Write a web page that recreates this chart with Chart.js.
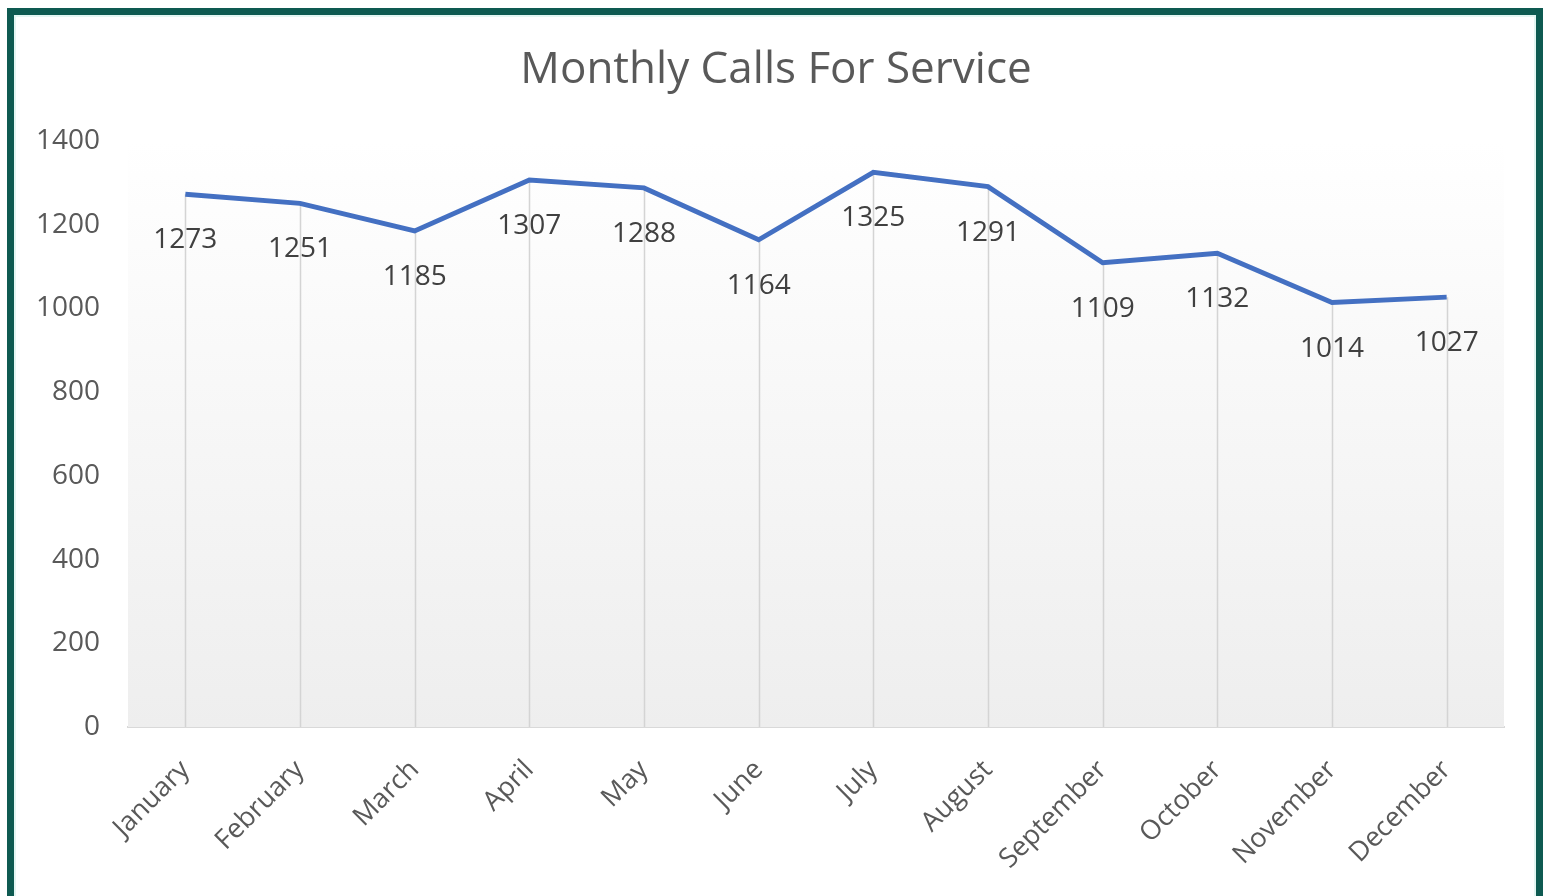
<!DOCTYPE html>
<html>
<head>
<meta charset="utf-8">
<script src="https://cdn.jsdelivr.net/npm/chart.js@4/dist/chart.umd.min.js"></script>
<style>
  html, body { margin: 0; padding: 0; background: #fff; overflow: hidden; }
  #wrap { position: relative; width: 1546px; height: 896px; }
  #frame {
    position: absolute; left: 7px; top: 8px; width: 1536px; height: 1000px;
    box-sizing: border-box; border: 7px solid #0e5a51;
    box-shadow: inset 0 0 0 2px #e3f6f3; pointer-events: none;
  }
  canvas { position: absolute; left: 0; top: 0; }
</style>
</head>
<body>
<div id="wrap">
  <canvas id="c" width="1546" height="896"></canvas>
  <div id="frame"></div>
</div>
<script>
// chart data
var chartTitle = 'Monthly Calls For Service';
var months = ['January', 'February', 'March', 'April', 'May', 'June',
              'July', 'August', 'September', 'October', 'November', 'December'];
var calls = [1273, 1251, 1185, 1307, 1288, 1164, 1325, 1291, 1109, 1132, 1014, 1027];
var yTicks = [0, 200, 400, 600, 800, 1000, 1200, 1400];

var FONT = '"Open Sans", "Noto Sans", sans-serif';

// gradient plot background + drop lines from each point to the axis
var plotDeco = {
  id: 'plotDeco',
  beforeDatasetsDraw: function(chart) {
    var a = chart.chartArea, ctx = chart.ctx;
    var g = ctx.createLinearGradient(0, a.top, 0, a.bottom);
    g.addColorStop(0, '#ffffff');
    g.addColorStop(1, '#eeeeee');
    ctx.save();
    ctx.fillStyle = g;
    ctx.fillRect(a.left, a.top, a.right - a.left, a.bottom - a.top);
    var y0 = chart.scales.y.getPixelForValue(0);
    ctx.strokeStyle = '#d4d4d4';
    ctx.lineWidth = 1.5;
    chart.getDatasetMeta(0).data.forEach(function(pt) {
      ctx.beginPath();
      ctx.moveTo(Math.round(pt.x) + 0.5, pt.y);
      ctx.lineTo(Math.round(pt.x) + 0.5, y0);
      ctx.stroke();
    });
    ctx.restore();
  }
};

// value labels under each point, and the title (sits off-centre like the original)
var textDeco = {
  id: 'textDeco',
  afterDatasetsDraw: function(chart) {
    var ctx = chart.ctx;
    ctx.save();
    ctx.font = '28px ' + FONT;
    ctx.fillStyle = '#404040';
    ctx.textAlign = 'center';
    ctx.textBaseline = 'middle';
    chart.getDatasetMeta(0).data.forEach(function(pt, i) {
      ctx.fillText(String(calls[i]), pt.x, pt.y + 46);
    });
    ctx.font = '44px ' + FONT;
    ctx.fillStyle = '#595959';
    ctx.fillText(chartTitle, 776, 70);
    ctx.restore();
  }
};

new Chart(document.getElementById('c'), {
  type: 'line',
  data: {
    labels: months,
    datasets: [{
      data: calls,
      borderColor: '#4470c2',
      borderWidth: 5,
      pointRadius: 0,
      tension: 0,
      fill: false
    }]
  },
  options: {
    responsive: false,
    animation: false,
    devicePixelRatio: 1,
    layout: { padding: { left: 0, right: 42, top: 141, bottom: 0 } },
    plugins: {
      legend: { display: false },
      tooltip: { enabled: false },
      title: { display: false }
    },
    scales: {
      x: {
        offset: true,
        grid: { display: false, drawTicks: false },
        border: { display: true, color: '#d9d9d9', width: 2 },
        ticks: {
          color: '#595959',
          font: { family: FONT, size: 27 },
          minRotation: 45,
          maxRotation: 45,
          padding: 27
        },
        afterFit: function(s) { s.height = 169; }
      },
      y: {
        min: 0,
        max: 1400,
        grid: { display: false, drawTicks: false },
        border: { display: false },
        afterBuildTicks: function(s) {
          s.ticks = yTicks.map(function(v) { return { value: v }; });
        },
        ticks: {
          color: '#595959',
          font: { family: FONT, size: 28 },
          padding: 28,
          callback: function(v) { return String(v); }
        },
        afterFit: function(s) { s.width = 128; }
      }
    }
  },
  plugins: [plotDeco, textDeco]
});
</script>
</body>
</html>
